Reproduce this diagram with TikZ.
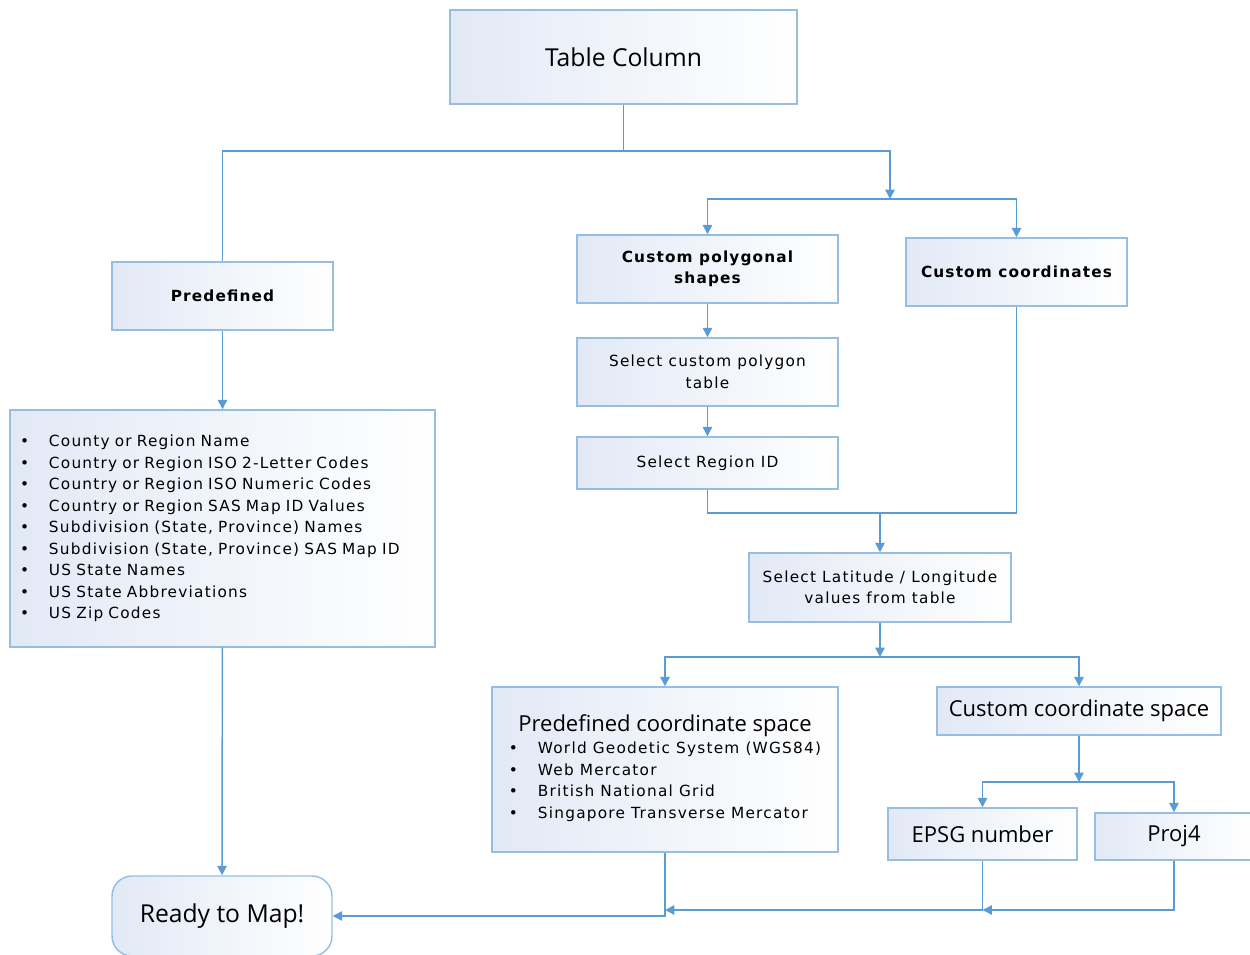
\documentclass[tikz,border=0pt]{standalone}
\usepackage{fontspec}
\setmainfont{DejaVu Sans}
\newfontfamily\osfont{Open Sans}
\usepackage{tikz}
\usetikzlibrary{shapes,arrows.meta}
\definecolor{linecol}{RGB}{91,155,213}
\definecolor{edgecol}{RGB}{150,190,228}
\definecolor{boxfill}{RGB}{226,233,246}
\newcommand\itm[1]{\makebox[21.75pt][l]{\textbullet}#1}
\newcommand\smallfnt{\fontsize{11.5}{16.1}\selectfont\addfontfeatures{LetterSpace=8}}
\newcommand\headfnt{\fontsize{11.5}{15.75}\selectfont\bfseries\addfontfeatures{LetterSpace=7.5}}
\newcommand\bigfnt{\osfont\fontsize{18.5}{22}\selectfont}
\newcommand\midfnt{\osfont\fontsize{16.5}{20}\selectfont}

\begin{document}
\begin{tikzpicture}[x=0.75pt,y=-0.75pt,>={Triangle[length=7pt,width=7pt]},
  box/.style={draw=edgecol,line width=1.1pt,left color=boxfill,right color=white,
    align=center,inner sep=0pt},
  wh/.style 2 args={minimum width=#1*0.75pt,minimum height=#2*0.75pt},
  conn/.style={draw=linecol,line width=1.1pt}]
\useasboundingbox (0,0) rectangle (1250,955);

\node[box,wh={347}{94},font=\bigfnt](tblcol) at (623.5,57) {Table Column};
\node[box,wh={221}{68},font=\headfnt](predef) at (222.5,296) {Predefined};
\node[box,wh={425}{237},text width=405*0.75pt,align=left,font=\smallfnt](predlist) at (222.5,528.5)
  {\itm{County or Region Name}\\ \itm{Country or Region ISO 2-Letter Codes}\\
   \itm{Country or Region ISO Numeric Codes}\\ \itm{Country or Region SAS Map ID Values}\\
   \itm{Subdivision (State, Province) Names}\\ \itm{Subdivision (State, Province) SAS Map ID}\\
   \itm{US State Names}\\ \itm{US State Abbreviations}\\ \itm{US Zip Codes}};
\node[box,wh={220}{80},rounded corners=20*0.75pt,font=\bigfnt](ready) at (222,916) {Ready to Map!};

\node[box,wh={261}{68},font=\headfnt](custpoly) at (707.5,269) {Custom polygonal\\ shapes};
\node[box,wh={221}{68},font=\headfnt](custcoord) at (1016.5,272) {Custom coordinates};
\node[box,wh={261}{68},font=\smallfnt](selpoly) at (707.5,372) {Select custom polygon\\ table};
\node[box,wh={261}{52},font=\smallfnt](selreg) at (707.5,463) {Select Region ID};
\node[box,wh={262}{69},font=\smallfnt](sellatlon) at (880,587.5) {Select Latitude / Longitude\\ values from table};
\node[box,wh={346}{165},font=\smallfnt](predspace) at (665,769.5)
  {{\midfnt Predefined coordinate space}\\[1pt]
   \begin{tabular}{@{}l@{}}\itm{World Geodetic System (WGS84)}\\ \itm{Web Mercator}\\
   \itm{British National Grid}\\ \itm{Singapore Transverse Mercator}\end{tabular}};
\node[box,wh={284}{48},font=\midfnt](custspace) at (1079,711) {Custom coordinate space};
\node[box,wh={189}{52},font=\midfnt](epsg) at (982.5,834) {EPSG number};
\node[box,wh={158}{47},font=\midfnt](proj) at (1174,836.5) {Proj4};

\coordinate (bus1) at (623.5,151);
\coordinate (bus2) at (890,199);
\coordinate (bus3) at (880,513);
\coordinate (bus4) at (880,657);
\coordinate (bus5) at (1079,782);
\coordinate (bus6) at (982.5,910);
\coordinate (bus7) at (665,910);

\draw[conn] (tblcol) -- (bus1) -| (predef);
\draw[conn,->] (bus1) -| (bus2);
\draw[conn,->] (bus2) -| (custpoly);
\draw[conn,->] (bus2) -| (custcoord);
\draw[conn,->] (predef) -- (predlist);
\draw[conn,->] (predlist) -- (ready);
\draw[conn,->] (custpoly) -- (selpoly);
\draw[conn,->] (selpoly) -- (selreg);
\draw[conn] (selreg) |- (bus3);
\draw[conn] (custcoord) |- (bus3);
\draw[conn,->] (bus3) -- (sellatlon);
\draw[conn,->] (sellatlon) -- (bus4);
\draw[conn,->] (bus4) -| (predspace);
\draw[conn,->] (bus4) -| (custspace);
\draw[conn,->] (custspace) -- (bus5);
\draw[conn,->] (bus5) -| (epsg);
\draw[conn,->] (bus5) -| (proj);
\draw[conn] (epsg) -- (bus6);
\draw[conn,->] (proj) |- (bus6);
\draw[conn,->] (bus6) -- (bus7);
\draw[conn,->] (predspace) |- (ready);
\end{tikzpicture}
\end{document}
